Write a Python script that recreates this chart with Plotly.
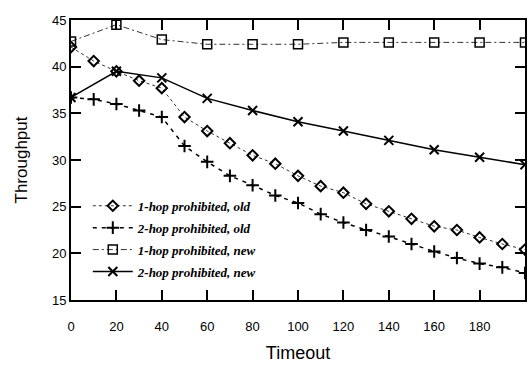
import plotly.graph_objects as go

x_old = [0, 10, 20, 30, 40, 50, 60, 70, 80, 90, 100, 110, 120, 130, 140, 150, 160, 170, 180, 190, 200]
hop1_old = [42.1, 40.6, 39.5, 38.5, 37.7, 34.6, 33.1, 31.8, 30.5, 29.6, 28.3, 27.2, 26.5, 25.3, 24.5, 23.7, 22.9, 22.5, 21.7, 21.0, 20.4]
hop2_old = [36.7, 36.5, 36.0, 35.3, 34.6, 31.5, 29.8, 28.3, 27.3, 26.2, 25.4, 24.2, 23.3, 22.5, 21.8, 21.0, 20.2, 19.5, 18.9, 18.5, 17.9]
x_new = [0, 20, 40, 60, 80, 100, 120, 140, 160, 180, 200]
hop1_new = [42.7, 44.5, 42.9, 42.4, 42.4, 42.4, 42.6, 42.6, 42.6, 42.6, 42.6]
hop2_new = [36.7, 39.5, 38.8, 36.6, 35.3, 34.1, 33.1, 32.1, 31.1, 30.3, 29.5]

names = ["1-hop prohibited, old", "2-hop prohibited, old", "1-hop prohibited, new", "2-hop prohibited, new"]

fig = go.Figure()
fig.add_trace(go.Scatter(x=x_old, y=hop1_old, name=names[0], mode="lines+markers", legendgroup="a",
                         line=dict(color="#333", width=1, dash="dot"),
                         marker=dict(symbol="diamond-open", size=8, color="black", line=dict(width=2))))
fig.add_trace(go.Scatter(x=x_old, y=hop2_old, name=names[1], mode="lines+markers", legendgroup="b",
                         line=dict(color="black", width=1.5, dash="4px,5px"),
                         marker=dict(symbol="cross-thin-open", size=9, color="black", line=dict(width=2))))
fig.add_trace(go.Scatter(x=x_new, y=hop1_new, name=names[2], mode="lines+markers", legendgroup="c",
                         line=dict(color="#333", width=1, dash="6px,3px,2px,3px"),
                         marker=dict(symbol="square-open", size=9, color="black", line=dict(width=1.5))))
fig.add_trace(go.Scatter(x=x_new, y=hop2_new, name=names[3], mode="lines+markers", legendgroup="d",
                         line=dict(color="black", width=1.5),
                         marker=dict(symbol="x-thin-open", size=9, color="black", line=dict(width=2))))

axis_common = dict(showline=True, linecolor="black", linewidth=2, mirror="ticks",
                   ticks="inside", ticklen=10, tickwidth=2, tickcolor="black",
                   showgrid=False, zeroline=False,
                   tickfont=dict(family="Liberation Sans, Arial", size=13, color="black"))

fig.update_layout(
    width=531, height=368,
    margin=dict(l=71, r=4, t=20, b=68),
    paper_bgcolor="white", plot_bgcolor="white",
    xaxis=dict(range=[0, 200], tickvals=[0, 20, 40, 60, 80, 100, 120, 140, 160, 180],
               ticklabelstandoff=13,
               title=dict(text="Timeout", font=dict(family="Liberation Sans, Arial", size=18, color="black"), standoff=14),
               **axis_common),
    yaxis=dict(range=[15, 45], tickvals=[15, 20, 25, 30, 35, 40, 45],
               title=dict(text="Throughput", font=dict(family="Liberation Sans, Arial", size=17, color="black"), standoff=20),
               **axis_common),
    legend=dict(x=0.037, y=0.39, xanchor="left", yanchor="top", bgcolor="rgba(0,0,0,0)",
                font=dict(family="Liberation Serif, Times New Roman", size=13, color="black", style="italic", weight="bold"),
                tracegroupgap=2, itemwidth=40),
    showlegend=True,
)

fig.write_html("out.html")
